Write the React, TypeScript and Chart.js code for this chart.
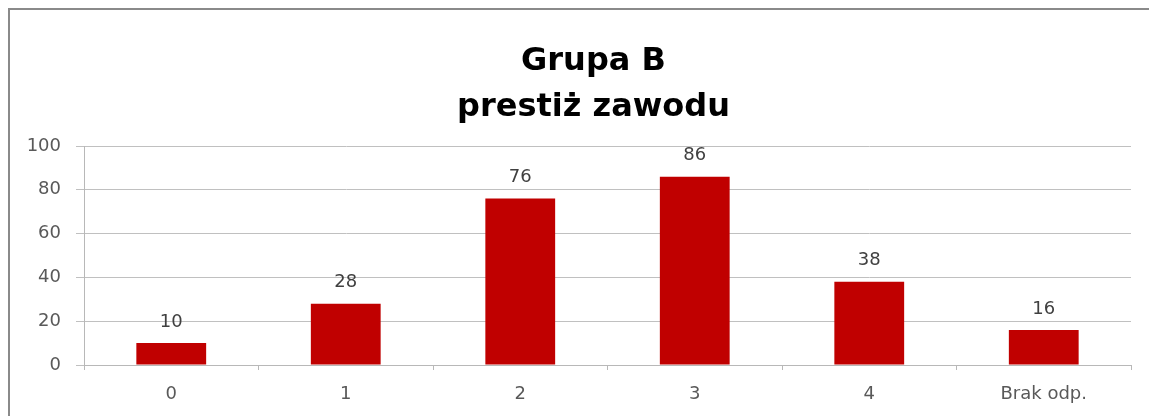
import React, { useEffect, useRef } from "react";
import { Chart, registerables } from "chart.js";

Chart.register(...registerables);

const titleLines = ["Grupa B", "prestiż zawodu"];
const categories = ["0", "1", "2", "3", "4", "Brak odp."];
const values = [10, 28, 76, 86, 38, 16];
const yMin = 0;
const yMax = 100;
const yStep = 20;

const FONT = "'DejaVu Sans', sans-serif";

const frame = {
  id: "frame",
  beforeDraw(chart: any) {
    const ctx = chart.ctx;
    ctx.save();
    ctx.fillStyle = "#ffffff";
    ctx.fillRect(0, 0, chart.width, chart.height);
    ctx.fillStyle = "#8a8a8a";
    ctx.fillRect(0, 0, chart.width, 2);
    ctx.fillRect(0, 0, 2, chart.height);
    ctx.restore();
  },
};

const valueLabels = {
  id: "valueLabels",
  afterDatasetsDraw(chart: any) {
    const ctx = chart.ctx;
    const meta = chart.getDatasetMeta(0);
    ctx.save();
    ctx.font = `18px ${FONT}`;
    ctx.fillStyle = "#404040";
    ctx.textAlign = "center";
    ctx.textBaseline = "middle";
    meta.data.forEach((bar: any, i: number) => {
      ctx.fillText(String(values[i]), bar.x, bar.y - 21);
    });
    ctx.restore();
  },
};

const titleBlock = {
  id: "titleBlock",
  afterDraw(chart: any) {
    const ctx = chart.ctx;
    ctx.save();
    ctx.font = `bold 32px ${FONT}`;
    ctx.fillStyle = "#000000";
    ctx.textAlign = "center";
    ctx.textBaseline = "alphabetic";
    const cx = chart.width / 2 + 15;
    titleLines.forEach((line, i) => {
      ctx.fillText(line, cx, 62 + i * 46);
    });
    ctx.restore();
  },
};

export default function App() {
  const ref = useRef<HTMLCanvasElement | null>(null);

  useEffect(() => {
    if (!ref.current) return;
    const chart = new Chart(ref.current, {
      type: "bar",
      data: {
        labels: categories,
        datasets: [
          {
            data: values,
            backgroundColor: "#C00000",
            borderWidth: 0,
            categoryPercentage: 1,
            barPercentage: 0.4,
          },
        ],
      },
      options: {
        animation: false,
        responsive: false,
        maintainAspectRatio: false,
        layout: { padding: { left: 2, right: 18, top: 138, bottom: 0 } },
        plugins: {
          legend: { display: false },
          tooltip: { enabled: false },
          title: { display: false },
        },
        scales: {
          x: {
            grid: {
              display: true,
              drawOnChartArea: false,
              drawTicks: true,
              tickLength: 5,
              color: "#b8b8b8",
              offset: true,
            },
            border: { display: true, color: "#b8b8b8", width: 1 },
            ticks: {
              color: "#595959",
              font: { family: FONT, size: 18 },
              padding: 14,
              maxRotation: 0,
              autoSkip: false,
            },
            afterFit(scale: any) {
              scale.height = 51;
            },
          },
          y: {
            min: yMin,
            max: yMax,
            grid: {
              color: "#c0c0c0",
              tickLength: 8,
              drawTicks: true,
            },
            border: { display: true, color: "#b8b8b8", width: 1 },
            ticks: {
              stepSize: yStep,
              color: "#595959",
              font: { family: FONT, size: 18 },
              padding: 15,
            },
            afterFit(scale: any) {
              scale.width = 74;
            },
          },
        },
      },
      plugins: [frame, valueLabels, titleBlock],
    });
    return () => chart.destroy();
  }, []);

  return (
    <div style={{ position: "absolute", left: 8, top: 8, width: 1141, height: 408 }}>
      <canvas ref={ref} width={1141} height={408} style={{ display: "block" }} />
    </div>
  );
}
